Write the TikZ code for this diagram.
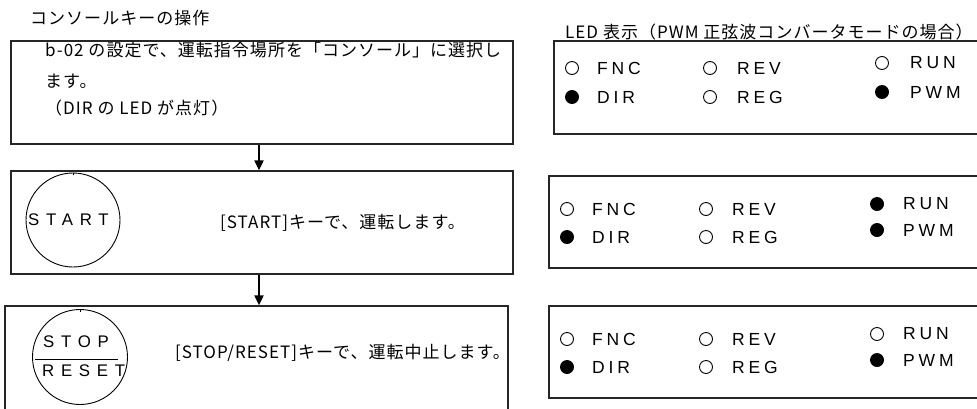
\documentclass[tikz,border=0pt]{standalone}
\usepackage{fontspec}
\newfontfamily\jpfont[LetterSpace=6]{Noto Sans CJK JP}
\newfontfamily\ledfont[LetterSpace=22]{Liberation Sans}
\newfontfamily\keyfont[LetterSpace=40]{Liberation Sans}
\usetikzlibrary{arrows.meta}
\tikzset{
  box/.style={draw=black!85,line width=1.3pt,rectangle,inner sep=0pt},
  jptext/.style={font=\jpfont\fontsize{17}{20}\selectfont,anchor=west,inner sep=0pt},
  ledtext/.style={font=\ledfont\fontsize{17.5}{20}\selectfont,anchor=west,inner sep=0pt},
  keytext/.style={font=\keyfont\fontsize{16.8}{19}\selectfont,anchor=west,inner sep=0pt},
  ledoff/.style={circle,draw=black,line width=0.9pt,minimum size=13pt,inner sep=0pt},
  ledon/.style={ledoff,fill=black},
  keyring/.style={circle,draw=black,line width=0.9pt,minimum size=#1,inner sep=0pt},
  flow/.style={line width=2pt,-{Triangle[length=10pt,width=9pt]}},
}
\begin{document}
\begin{tikzpicture}[x=1pt,y=-1pt]
\clip (0,0) rectangle (977,408);
\fill[white] (0,0) rectangle (977,408);

% titles
\node[jptext] (t1) at (30,18) {コンソールキーの操作};
\node[jptext] (t2) at (565,32) {LED 表示（PWM 正弦波コンバータモードの場合）};

% left boxes
\node[box,minimum width=502pt,minimum height=103pt] (b1) at (262,92.5) {};
\node[box,minimum width=502pt,minimum height=103pt] (b2) at (262,222.5) {};
\node[box,minimum width=503pt,minimum height=106pt] (b3) at (256.5,359) {};

\node[jptext] (b1l1) at (45,50) {b-02 の設定で、運転指令場所を「コンソール」に選択し};
\node[jptext] (b1l2) at (45,81) {ます。};
\node[jptext] (b1l3) at (45,108) {（DIR の LED が点灯）};

\node[keyring=94pt] (k1) at (73,220) {};
\draw[line width=0.8pt] (k1.north) -- ++(0,2.5);
\node[keytext] (k1t) at (28,220) {START};
\node[jptext] (b2t) at (220,223) {[START]キーで、運転します。};

\node[keyring=95pt] (k2) at (80,357) {};
\draw[line width=0.8pt] (k2.north) -- ++(0,2.5);
\node[keytext] (k2a) at (43,342) {STOP};
\node[keytext] (k2b) at (42,371) {RESET};
\coordinate (k2l) at (35,359);
\coordinate (k2r) at (118,359);
\draw[line width=0.9pt] (k2l) -- (k2r);
\node[jptext] (b3t) at (175,353) {[STOP/RESET]キーで、運転中止します。};

% arrows
\coordinate (ax) at (259,0);
\draw[flow] (b1.south -| ax) -- (b2.north -| ax);
\draw[flow] (b2.south -| ax) -- (b3.north -| ax);

% right boxes
\node[box,minimum width=431pt,minimum height=93pt] (r1) at (769.5,87.5) {};
\node[box,minimum width=436pt,minimum height=92pt] (r2) at (767,222) {};
\node[box,minimum width=436pt,minimum height=92pt] (r3) at (767,352) {};

% LED panel 1
\node[ledoff] (r1fnc) at (572,68) {};
\node[ledtext] at (597,68) {FNC};
\node[ledon] (r1dir) at (572,97) {};
\node[ledtext] at (597,97) {DIR};
\node[ledoff] (r1rev) at (710,68) {};
\node[ledtext] at (737,68) {REV};
\node[ledoff] (r1reg) at (710,97) {};
\node[ledtext] at (737,97) {REG};
\node[ledoff] (r1run) at (882,63) {};
\node[ledtext] at (910,63) {RUN};
\node[ledon] (r1pwm) at (882,92) {};
\node[ledtext] at (910,92) {PWM};

% LED panel 2
\node[ledoff] (r2fnc) at (567,209) {};
\node[ledtext] at (592,209) {FNC};
\node[ledon] (r2dir) at (567,237) {};
\node[ledtext] at (592,237) {DIR};
\node[ledoff] (r2rev) at (706,209) {};
\node[ledtext] at (732,209) {REV};
\node[ledoff] (r2reg) at (706,237) {};
\node[ledtext] at (732,237) {REG};
\node[ledon] (r2run) at (877,204) {};
\node[ledtext] at (903,204) {RUN};
\node[ledon] (r2pwm) at (877,230) {};
\node[ledtext] at (903,230) {PWM};

% LED panel 3
\node[ledoff] (r3fnc) at (567,339) {};
\node[ledtext] at (592,339) {FNC};
\node[ledon] (r3dir) at (567,367) {};
\node[ledtext] at (592,367) {DIR};
\node[ledoff] (r3rev) at (706,339) {};
\node[ledtext] at (732,339) {REV};
\node[ledoff] (r3reg) at (706,367) {};
\node[ledtext] at (732,367) {REG};
\node[ledoff] (r3run) at (877,334) {};
\node[ledtext] at (903,334) {RUN};
\node[ledon] (r3pwm) at (877,360) {};
\node[ledtext] at (903,360) {PWM};
\end{tikzpicture}
\end{document}
